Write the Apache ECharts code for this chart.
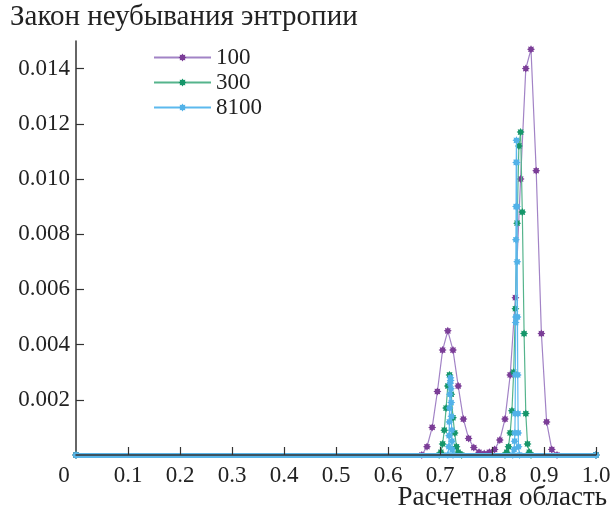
<!DOCTYPE html>
<html>
<head>
<meta charset="utf-8">
<script src="https://cdn.jsdelivr.net/npm/echarts@6/dist/echarts.min.js"></script>
<style>html,body{margin:0;padding:0;background:#fff}#c{width:610px;height:514px}</style>
</head>
<body>
<div id="c"></div>
<script>
// ---- data ----
var seriesNames = ['100', '300', '8100'];
var xTickValues = [0, 0.1, 0.2, 0.3, 0.4, 0.5, 0.6, 0.7, 0.8, 0.9, 1.0];
var yTickValues = [0.002, 0.004, 0.006, 0.008, 0.010, 0.012, 0.014];

var x100 = [0, 0.665, 0.675, 0.685, 0.695, 0.705, 0.715, 0.725, 0.735, 0.745, 0.755, 0.765, 0.775, 0.785, 0.795, 0.805, 0.815, 0.825, 0.835, 0.845, 0.855, 0.865, 0.875, 0.885, 0.895, 0.905, 0.915, 0.925, 1];
var y100 = [0, 0, 0.0003, 0.0010, 0.0023, 0.0038, 0.0045, 0.0038, 0.0025, 0.0013, 0.0006, 0.00027, 0.0001, 0.00005, 0.0001, 0.0002, 0.00054, 0.0013, 0.0029, 0.0057, 0.0100, 0.0140, 0.0147, 0.0103, 0.0044, 0.0012, 0.0002, 0, 0];

var x300 = [0, 0.6983, 0.7017, 0.705, 0.7083, 0.7117, 0.715, 0.7183, 0.7217, 0.725, 0.7283, 0.7317, 0.735, 0.7383, 0.7417, 0.825, 0.8283, 0.8317, 0.835, 0.8383, 0.8417, 0.845, 0.8483, 0.8517, 0.855, 0.8583, 0.8617, 0.865, 0.8683, 0.8717, 0.875, 1];
var y300 = [0, 0, 0.0001, 0.0004, 0.0009, 0.0017, 0.0025, 0.0029, 0.0022, 0.00135, 0.0008, 0.0003, 0.0001, 0.00003, 0, 0, 0.0001, 0.0003, 0.0008, 0.0016, 0.0030, 0.0053, 0.0084, 0.0112, 0.0117, 0.0088, 0.0044, 0.0015, 0.0004, 0.0001, 0, 0];

var x8100 = [0, 0.715, 0.7170, 0.7175, 0.7180, 0.7185, 0.7190, 0.7195, 0.7200, 0.7205, 0.7210, 0.7215, 0.7220, 0.7225, 0.7230, 0.7235, 0.725, 0.840, 0.8425, 0.8435, 0.8440, 0.8445, 0.8450, 0.8455, 0.8458, 0.8460, 0.8463, 0.8466, 0.8470, 0.8475, 0.8480, 0.8485, 0.8490, 0.8495, 0.8500, 0.8505, 0.8510, 0.853, 1];
var y8100 = [0, 0, 0.0003, 0.0007, 0.0012, 0.0017, 0.0022, 0.0026, 0.0028, 0.0027, 0.0024, 0.0019, 0.0014, 0.0009, 0.0005, 0.0002, 0, 0, 0.0002, 0.0005, 0.0008, 0.0015, 0.0029, 0.0048, 0.0050, 0.0078, 0.0090, 0.0106, 0.0114, 0.0106, 0.0090, 0.0070, 0.0050, 0.0029, 0.0015, 0.0008, 0.0003, 0, 0];

function pairs(xs, ys) { return xs.map(function (x, i) { return [x, ys[i]]; }); }

var FONT = '"Liberation Serif", "DejaVu Serif", serif';
var STAR = 'path://M200,100L160,125L171,171L125,160L100,200L75,160L29,171L40,125L0,100L40,75L29,29L75,40L100,0L125,40L171,29L160,75Z';
var markerColors = ['#7b3d97', '#16966a', '#52b2e8'];
var lineColors = ['#a283c6', '#55b48c', '#5cb9ee'];

var datasets = [pairs(x100, y100), pairs(x300, y300), pairs(x8100, y8100)];

var series = datasets.map(function (d, i) {
  var s = {
    name: seriesNames[i],
    type: 'line',
    data: d,
    symbol: STAR,
    symbolSize: 8,
    showAllSymbol: true,
    animation: false,
    z: 2 + i,
    itemStyle: { color: markerColors[i] },
    lineStyle: { color: lineColors[i], width: 1.2 }
  };
  if (i === 2) {
    s.markLine = {
      symbol: 'none',
      silent: true,
      animation: false,
      label: { show: false },
      lineStyle: { color: '#5ab6ea', width: 5, type: 'solid', cap: 'round' },
      data: [[{ coord: [0, 0] }, { coord: [1, 0] }]]
    };
  }
  return s;
});

var chart = echarts.init(document.getElementById('c'), null, { renderer: 'canvas' });
chart.setOption({
  backgroundColor: '#fff',
  animation: false,
  title: [{
    text: 'Закон неубывания энтропии',
    left: 10, top: 3, padding: 0,
    textStyle: { fontFamily: FONT, fontSize: 29, fontWeight: 'normal', color: '#222' }
  }, {
    text: 'Расчетная область',
    right: 3, top: 484, padding: 0,
    textStyle: { fontFamily: FONT, fontSize: 27, fontWeight: 'normal', color: '#222' }
  }],
  legend: {
    orient: 'vertical',
    left: 153, top: 46, padding: 0,
    itemWidth: 57, itemHeight: 10, itemGap: 2,
    textStyle: { fontFamily: FONT, fontSize: 23, color: '#222', lineHeight: 22 },
    data: seriesNames
  },
  grid: { left: 76, right: 14, top: 41, bottom: 59, containLabel: false, outerBoundsMode: 'none' },
  xAxis: {
    type: 'value', min: 0, max: 1, interval: 0.1,
    z: 10,
    axisLine: { show: true, lineStyle: { color: '#333', width: 1.5 } },
    axisTick: { show: true, inside: true, length: 8, lineStyle: { color: '#333', width: 1.2 }, customValues: xTickValues.slice(1) },
    axisLabel: {
      fontFamily: FONT, fontSize: 23, color: '#222', margin: 9,
      customValues: xTickValues,
      formatter: function (v) { return v === 0 ? '{z|0}' : v.toFixed(1); },
      rich: { z: { fontFamily: FONT, fontSize: 23, color: '#222', padding: [0, 24, 0, 0] } }
    },
    splitLine: { show: false }
  },
  yAxis: {
    type: 'value', min: 0, max: 0.015,
    axisLine: { show: true, lineStyle: { color: '#333', width: 1.5 } },
    axisTick: { show: true, inside: true, length: 8, lineStyle: { color: '#333', width: 1.2 }, customValues: yTickValues },
    axisLabel: {
      fontFamily: FONT, fontSize: 23, color: '#222', margin: 6,
      customValues: yTickValues,
      formatter: function (v) { return v.toFixed(3); }
    },
    splitLine: { show: false }
  },
  series: series
});
</script>
</body>
</html>
